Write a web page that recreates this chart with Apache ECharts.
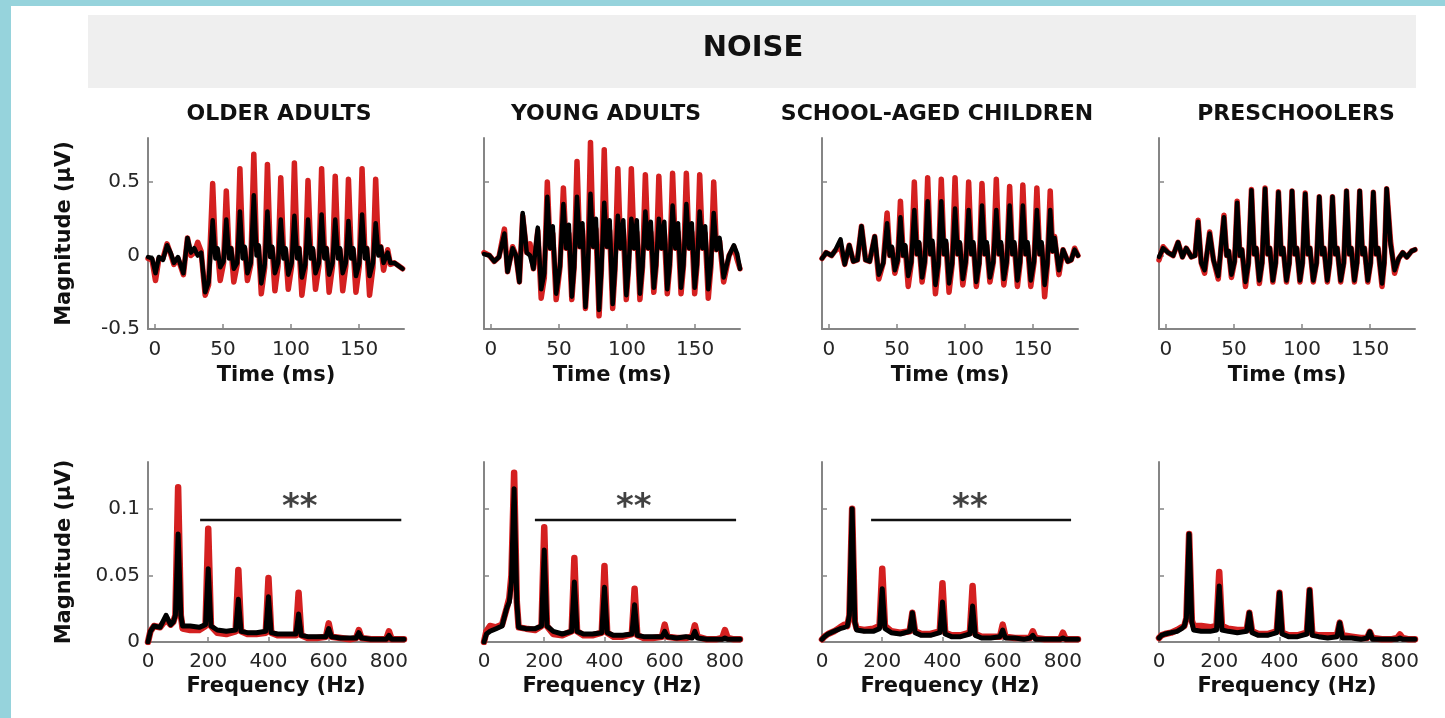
<!DOCTYPE html>
<html><head><meta charset="utf-8">
<script src="https://cdn.jsdelivr.net/npm/echarts@6/dist/echarts.min.js"></script>
<style>html,body{margin:0;padding:0;background:#fff;overflow:hidden}#c{width:1445px;height:718px}</style>
</head><body><div id="c"></div>
<script>
// ---------- text / ticks ----------
const MAIN_TITLE = 'NOISE';
const GROUPS = ['OLDER ADULTS', 'YOUNG ADULTS', 'SCHOOL-AGED CHILDREN', 'PRESCHOOLERS'];
const TIME_TICKS = [0, 50, 100, 150];
const TIME_MAG_TICKS = [-0.5, 0, 0.5];
const FREQ_TICKS = [0, 200, 400, 600, 800];
const FREQ_MAG_TICKS = [0, 0.05, 0.1];
const X_TIME_NAME = 'Time (ms)';
const X_FREQ_NAME = 'Frequency (Hz)';
const Y_NAME = 'Magnitude (\u00b5V)';

// ---------- time-domain waveforms (ms, µV) ----------
const T_OA = [-5,-2,0.5,3,6,9,12,14,17,21,24,26.5,29,31.5,34,37,39.5,
  42.5,44.5,46,48,50.5, 52.5,54.5,56,58,60.5, 62.5,64.5,66,68,70.5, 72.7,74.7,76.2,78.2,80.7,
  82.7,84.7,86.2,88.2,90.5, 92.5,94.5,96,98,100.5, 102.5,104.5,106,108,110.5, 112.5,114.5,116,118,120.5,
  122.5,124.5,126,128,130.5, 132.5,134.5,136,138,140.3, 142.2,144.2,145.7,147.7,150.2, 152.2,154.2,155.7,157.7,160.2,
  162.2,164.2,166,168, 171,173,176,179,182];
const RED_T_OA = [-0.02,-0.03,-0.17,-0.02,-0.02,0.08,0.0,-0.06,-0.02,-0.13,0.12,0.0,0.02,0.09,0.03,-0.27,-0.2,
  0.49,0.02,0.04,-0.17,-0.05, 0.44,0.02,0.05,-0.18,-0.06, 0.59,0.03,0.05,-0.17,-0.06, 0.69,0.04,0.06,-0.26,-0.08,
  0.62,0.03,0.05,-0.24,-0.07, 0.53,0.02,0.04,-0.23,-0.07, 0.63,0.03,0.05,-0.27,-0.08, 0.51,0.02,0.04,-0.23,-0.07,
  0.59,0.03,0.05,-0.25,-0.07, 0.54,0.02,0.04,-0.24,-0.07, 0.52,0.02,0.04,-0.25,-0.07, 0.59,0.03,0.05,-0.27,-0.08,
  0.52,0.02,0.06,-0.1, 0.04,-0.06,-0.05,-0.07,-0.09];
const BLK_T_OA = [-0.01,-0.02,-0.12,-0.01,-0.03,0.07,0.01,-0.05,-0.01,-0.12,0.12,0.02,0.05,0.0,0.02,-0.25,-0.18,
  0.24,-0.02,0.05,-0.08,-0.04, 0.245,-0.02,0.05,-0.09,-0.05, 0.3,-0.02,0.06,-0.12,-0.05, 0.41,0.0,0.07,-0.19,-0.06,
  0.3,-0.01,0.06,-0.12,-0.05, 0.245,-0.02,0.05,-0.13,-0.05, 0.27,-0.02,0.05,-0.15,-0.06, 0.245,-0.02,0.05,-0.12,-0.05,
  0.28,-0.02,0.05,-0.13,-0.05, 0.245,-0.02,0.05,-0.12,-0.05, 0.235,-0.02,0.05,-0.14,-0.05, 0.28,-0.02,0.05,-0.14,-0.05,
  0.22,0.0,0.06,-0.05, 0.02,-0.05,-0.05,-0.07,-0.09];

const T_YA = [-5,-1,2.5,6,10,12.3,16,18.5,21,23.4,26.4,28.8,31.3,34.5,37,39.3,
  41.5,43.5,45.5,48,50.8, 53.3,55.3,57.3,59.5,61.2, 63.3,65.3,67.3,69.5,71.2, 73.2,75.2,77.2,79.5,81.2,
  83.3,85.3,87.3,89.5,91.2, 93.3,95.3,97.3,99.5,101.2, 103.2,105.2,107.2,109.5,111.4, 113.5,115.5,117.5,119.7,121.4,
  123.4,125.4,127.4,129.6,131.4, 133.5,135.5,137.5,139.7,141.5, 143.6,145.6,147.6,149.7,151.4, 153.4,155.4,157.4,159.7,161.6,
  163.7,165.7,168,171, 175,178.5,181,183];
const RED_T_YA = [0.02,0.0,-0.04,-0.01,0.18,-0.11,0.06,0.0,-0.18,0.27,0.02,0.08,-0.09,0.17,-0.29,-0.15,
  0.50,0.05,0.15,-0.30,-0.08, 0.46,0.05,0.15,-0.30,-0.08, 0.64,0.06,0.17,-0.36,-0.1, 0.77,0.06,0.18,-0.41,-0.1,
  0.72,0.06,0.17,-0.36,-0.1, 0.59,0.05,0.17,-0.30,-0.08, 0.59,0.05,0.16,-0.30,-0.08, 0.55,0.05,0.16,-0.25,-0.07,
  0.54,0.05,0.16,-0.26,-0.07, 0.56,0.05,0.16,-0.26,-0.07, 0.56,0.05,0.16,-0.26,-0.07, 0.55,0.05,0.15,-0.29,-0.08,
  0.50,0.04,0.1,-0.18, 0.0,0.06,-0.03,-0.09];
const BLK_T_YA = [0.01,0.0,-0.04,-0.01,0.15,-0.11,0.05,0.0,-0.18,0.29,0.02,0.0,-0.09,0.19,-0.23,-0.12,
  0.40,0.05,0.2,-0.26,-0.07, 0.35,0.05,0.21,-0.28,-0.08, 0.40,0.06,0.22,-0.35,-0.09, 0.42,0.06,0.25,-0.37,-0.09,
  0.36,0.06,0.24,-0.33,-0.09, 0.27,0.05,0.24,-0.27,-0.08, 0.25,0.05,0.24,-0.26,-0.07, 0.30,0.05,0.23,-0.22,-0.06,
  0.25,0.05,0.23,-0.23,-0.06, 0.34,0.05,0.22,-0.22,-0.06, 0.35,0.05,0.22,-0.22,-0.06, 0.30,0.05,0.2,-0.23,-0.06,
  0.29,0.04,0.12,-0.15, 0.0,0.07,0.01,-0.09];

const T_SA = [-5,-2,2,4.4,8.6,11.7,15,18,21,24,27,30,33.7,36.7,40,
  42.8,44.8,46.3,48.5,50.6, 52.6,54.6,56.1,58.3,60.6, 62.8,64.8,66.3,68.5,70.5, 72.6,74.6,76.1,78.3,80.5,
  82.6,84.6,86.1,88.3,90.6, 92.7,94.7,96.2,98.4,100.6, 102.7,104.7,106.2,108.3,110.5, 112.5,114.5,116,118.3,120.8,
  123,125,126.5,128.5,130.7, 132.8,134.8,136.3,138.5,140.5, 142.5,144.5,146,148.3,150.7, 152.8,154.8,156.3,158.5,160.5,
  162.6,164.3,165.8,169, 172,175.5,178,180.5,183];
const RED_T_SA = [-0.02,0.02,0.0,0.03,0.06,-0.06,0.07,-0.04,-0.03,0.2,-0.03,-0.04,0.13,-0.16,-0.05,
  0.29,0.0,0.05,-0.12,-0.04, 0.37,0.0,0.06,-0.21,-0.05, 0.50,0.01,0.08,-0.18,-0.05, 0.53,0.01,0.08,-0.26,-0.06,
  0.52,0.01,0.08,-0.25,-0.06, 0.53,0.01,0.08,-0.2,-0.05, 0.50,0.01,0.07,-0.21,-0.05, 0.49,0.01,0.07,-0.18,-0.05,
  0.52,0.01,0.07,-0.2,-0.05, 0.47,0.01,0.07,-0.21,-0.05, 0.48,0.01,0.07,-0.21,-0.05, 0.46,0.01,0.07,-0.28,-0.06,
  0.44,0.03,0.13,-0.13, 0.04,-0.04,-0.03,0.05,0.0];
const BLK_T_SA = [-0.02,0.02,0.0,0.03,0.11,-0.06,0.07,-0.04,-0.03,0.2,-0.03,-0.04,0.13,-0.13,-0.05,
  0.22,0.0,0.06,-0.1,-0.03, 0.26,0.0,0.07,-0.14,-0.04, 0.31,0.01,0.09,-0.15,-0.04, 0.37,0.01,0.1,-0.2,-0.05,
  0.37,0.01,0.1,-0.19,-0.05, 0.32,0.01,0.09,-0.16,-0.04, 0.31,0.01,0.09,-0.18,-0.05, 0.34,0.01,0.09,-0.15,-0.04,
  0.31,0.01,0.09,-0.16,-0.04, 0.34,0.01,0.09,-0.17,-0.04, 0.34,0.01,0.09,-0.17,-0.04, 0.31,0.01,0.09,-0.2,-0.05,
  0.31,0.03,0.12,-0.1, 0.04,-0.04,-0.03,0.04,0.0];

const T_PS = [-5,-2,1.7,5.4,9,12.2,15,18.8,21.5,23.7,26,28.5,32.2,35,38.5,
  42.7,44.7,46.2,48.2,50.5, 52.4,54.4,55.9,58.5,60.7, 62.9,64.9,66.4,68.7,70.7, 72.9,74.9,76.4,78.6,80.7,
  82.7,84.7,86.2,88.6,90.7, 92.7,94.7,96.2,98.5,100.4, 102.4,104.4,105.9,108.3,110.7, 112.7,114.7,116.2,118.6,120.4,
  122.4,124.4,125.9,128.4,130.7, 132.7,134.7,136.2,138.5,140.4, 142.4,144.4,145.9,148.3,150.4, 152.4,154.4,155.9,158.8,160.4,
  162.2,165,168, 171,174,177,180.5,183];
const RED_T_PS = [-0.03,0.06,0.02,0.0,0.09,-0.01,0.05,-0.01,0.0,0.24,-0.05,-0.12,0.16,-0.03,-0.16,
  0.275,0.0,0.03,-0.15,-0.04, 0.37,0.0,0.04,-0.21,-0.05, 0.45,0.01,0.05,-0.19,-0.05, 0.46,0.01,0.05,-0.18,-0.05,
  0.435,0.01,0.05,-0.18,-0.05, 0.44,0.01,0.05,-0.18,-0.05, 0.425,0.01,0.05,-0.18,-0.05, 0.40,0.01,0.05,-0.18,-0.05,
  0.40,0.01,0.05,-0.18,-0.05, 0.44,0.01,0.05,-0.18,-0.05, 0.44,0.01,0.05,-0.18,-0.05, 0.43,0.01,0.05,-0.21,-0.05,
  0.455,0.1,-0.12, -0.02,0.02,-0.01,0.03,0.04];
const BLK_T_PS = [-0.01,0.05,0.02,0.0,0.09,-0.01,0.05,-0.01,0.0,0.23,-0.05,-0.1,0.15,-0.03,-0.14,
  0.26,0.0,0.03,-0.13,-0.04, 0.36,0.0,0.04,-0.18,-0.05, 0.445,0.01,0.05,-0.17,-0.05, 0.455,0.01,0.05,-0.17,-0.05,
  0.43,0.01,0.05,-0.17,-0.05, 0.44,0.01,0.05,-0.17,-0.05, 0.42,0.01,0.05,-0.17,-0.05, 0.40,0.01,0.05,-0.17,-0.05,
  0.40,0.01,0.05,-0.17,-0.05, 0.44,0.01,0.05,-0.17,-0.05, 0.44,0.01,0.05,-0.17,-0.05, 0.43,0.01,0.05,-0.19,-0.05,
  0.455,0.08,-0.1, -0.02,0.02,-0.01,0.03,0.04];

// ---------- spectra (Hz, µV) ----------
const FREQ = [0,8,20,40,60,75,84,91, 100,109,115,140,170, 191,200,209,230,260, 291,300,309,330,360,
  391,400,409,430,460, 491,500,509,530,560, 591,600,609,640,670, 691,700,709,740,770, 791,800,809,830,850];
const RED_F_OA = [0,0.008,0.012,0.011,0.017,0.013,0.015,0.02, 0.116,0.02,0.01,0.009,0.009, 0.012,0.085,0.012,0.007,0.006,
  0.008,0.054,0.008,0.006,0.006, 0.007,0.048,0.007,0.005,0.005, 0.005,0.037,0.005,0.003,0.003, 0.004,0.014,0.004,0.003,0.002,
  0.003,0.009,0.003,0.002,0.002, 0.002,0.008,0.002,0.002,0.002];
const BLK_F_OA = [0,0.008,0.012,0.011,0.02,0.013,0.015,0.02, 0.081,0.02,0.012,0.012,0.011, 0.013,0.055,0.012,0.009,0.008,
  0.009,0.032,0.008,0.007,0.007, 0.008,0.034,0.007,0.006,0.006, 0.006,0.021,0.005,0.004,0.004, 0.004,0.01,0.004,0.003,0.003,
  0.003,0.007,0.003,0.002,0.002, 0.002,0.005,0.002,0.002,0.002];
const RED_F_YA = [0,0.008,0.012,0.011,0.013,0.025,0.033,0.05, 0.127,0.03,0.011,0.01,0.009, 0.012,0.086,0.012,0.006,0.005,
  0.008,0.063,0.008,0.005,0.005, 0.007,0.057,0.007,0.004,0.004, 0.006,0.040,0.005,0.003,0.003, 0.004,0.013,0.004,0.003,0.003,
  0.004,0.0125,0.004,0.002,0.002, 0.003,0.009,0.003,0.002,0.002];
const BLK_F_YA = [0,0.006,0.008,0.01,0.012,0.025,0.03,0.045, 0.115,0.03,0.011,0.01,0.01, 0.012,0.069,0.012,0.008,0.006,
  0.008,0.045,0.008,0.006,0.006, 0.007,0.041,0.007,0.005,0.005, 0.006,0.028,0.005,0.004,0.004, 0.004,0.008,0.004,0.003,0.004,
  0.003,0.008,0.003,0.002,0.002, 0.002,0.003,0.002,0.002,0.002];
const RED_F_SA = [0.002,0.004,0.006,0.008,0.011,0.013,0.012,0.02, 0.1,0.015,0.01,0.009,0.01, 0.012,0.055,0.012,0.008,0.007,
  0.008,0.022,0.008,0.006,0.006, 0.008,0.044,0.007,0.005,0.005, 0.007,0.042,0.006,0.004,0.004, 0.004,0.013,0.004,0.003,0.003,
  0.003,0.008,0.003,0.002,0.002, 0.002,0.007,0.002,0.002,0.002];
const BLK_F_SA = [0.002,0.004,0.006,0.008,0.01,0.011,0.012,0.02, 0.1,0.015,0.009,0.008,0.008, 0.01,0.04,0.01,0.007,0.006,
  0.008,0.022,0.007,0.005,0.005, 0.007,0.03,0.006,0.004,0.004, 0.006,0.027,0.005,0.003,0.003, 0.004,0.009,0.003,0.003,0.002,
  0.003,0.005,0.002,0.002,0.002, 0.002,0.003,0.002,0.002,0.002];
const RED_F_PS = [0.003,0.005,0.006,0.007,0.009,0.011,0.012,0.018, 0.081,0.016,0.012,0.012,0.011, 0.012,0.0525,0.012,0.01,0.009,
  0.009,0.022,0.008,0.006,0.006, 0.008,0.037,0.007,0.005,0.005, 0.007,0.039,0.006,0.005,0.005, 0.005,0.0145,0.005,0.004,0.003,
  0.003,0.0076,0.003,0.002,0.002, 0.003,0.0056,0.003,0.002,0.002];
const BLK_F_PS = [0.003,0.005,0.006,0.007,0.008,0.01,0.012,0.018, 0.081,0.015,0.009,0.008,0.008, 0.009,0.042,0.009,0.008,0.007,
  0.008,0.022,0.007,0.005,0.005, 0.007,0.037,0.006,0.004,0.004, 0.006,0.039,0.005,0.004,0.003, 0.004,0.0145,0.003,0.003,0.002,
  0.003,0.0076,0.002,0.002,0.002, 0.002,0.003,0.002,0.002,0.002];

// significance bars (Hz range), level and "**" position
const SIG_RANGES = [[173, 841], [169, 837], [163, 827], null];
const SIG_LEVEL = 0.0915;
const STAR_X = [504, 497, 491, null];
const STAR_LEVEL = 0.1;
const STAR_TEXT = '**';

// ---------- build ----------
const TIME_SETS = [[T_OA, RED_T_OA, BLK_T_OA], [T_YA, RED_T_YA, BLK_T_YA], [T_SA, RED_T_SA, BLK_T_SA], [T_PS, RED_T_PS, BLK_T_PS]];
const FREQ_SETS = [[RED_F_OA, BLK_F_OA], [RED_F_YA, BLK_F_YA], [RED_F_SA, BLK_F_SA], [RED_F_PS, BLK_F_PS]];
const pair = (xs, ys) => xs.slice(0, Math.min(xs.length, ys.length)).map((x, i) => [x, ys[i]]);

const COL_LEFT = [148, 484, 822, 1159], GRID_W = 256;
const ROWS = [{ top: 138, height: 191 }, { top: 462, height: 180 }];
const RED = '#d42020', BLACK = '#000000', AXIS = '#858585', TICKC = '#262626';
const FONT = 'DejaVu Sans';

const grid = [], xAxis = [], yAxis = [], series = [];
const nameStyle = { fontFamily: FONT, fontWeight: 'bold', fontSize: 21, color: '#111' };
const lblStyle = { fontFamily: FONT, fontSize: 20, color: TICKC };

for (let r = 0; r < 2; r++) {
  for (let c = 0; c < 4; c++) {
    const gi = r * 4 + c;
    grid.push({ left: COL_LEFT[c], top: ROWS[r].top, width: GRID_W, height: ROWS[r].height });
    const xt = r === 0 ? TIME_TICKS : FREQ_TICKS;
    const yt = r === 0 ? TIME_MAG_TICKS : FREQ_MAG_TICKS;
    xAxis.push({
      type: 'value', gridIndex: gi,
      min: r === 0 ? -5 : 0, max: r === 0 ? 183 : 850,
      axisLine: { onZero: false, lineStyle: { color: AXIS, width: 2 } },
      axisTick: { inside: true, length: 5, customValues: xt, lineStyle: { color: AXIS, width: 1.5 } },
      axisLabel: Object.assign({ customValues: xt, margin: r === 0 ? 11 : 10 }, lblStyle),
      splitLine: { show: false },
      name: r === 0 ? X_TIME_NAME : X_FREQ_NAME, nameLocation: 'middle', nameGap: r === 0 ? 36 : 34,
      nameTextStyle: nameStyle
    });
    yAxis.push({
      type: 'value', gridIndex: gi,
      min: r === 0 ? -0.5 : 0, max: r === 0 ? 0.8 : 0.135,
      axisLine: { show: true, onZero: false, lineStyle: { color: AXIS, width: 2 } },
      axisTick: { show: true, inside: true, length: 5, customValues: yt, lineStyle: { color: AXIS, width: 1.5 } },
      axisLabel: Object.assign({ show: c === 0, customValues: yt, margin: 8 }, lblStyle),
      splitLine: { show: false },
      name: c === 0 ? Y_NAME : '', nameLocation: 'middle', nameGap: 73,
      nameTextStyle: nameStyle
    });
    let redData, blkData;
    if (r === 0) {
      const s = TIME_SETS[c];
      redData = pair(s[0], s[1]); blkData = pair(s[0], s[2]);
    } else {
      const s = FREQ_SETS[c];
      redData = pair(FREQ, s[0]); blkData = pair(FREQ, s[1]);
    }
    const lw = r === 0 ? [5.5, 4.5] : [6.5, 5];
    series.push({ type: 'line', xAxisIndex: gi, yAxisIndex: gi, data: redData, showSymbol: false, symbol: 'none',
      lineStyle: { color: RED, width: lw[0], join: 'round', cap: 'round' }, z: 2, silent: true });
    series.push({ type: 'line', xAxisIndex: gi, yAxisIndex: gi, data: blkData, showSymbol: false, symbol: 'none',
      lineStyle: { color: BLACK, width: lw[1], join: 'round', cap: 'round' }, z: 3, silent: true });
    if (r === 1 && SIG_RANGES[c]) {
      series.push({ type: 'line', xAxisIndex: gi, yAxisIndex: gi,
        data: [[SIG_RANGES[c][0], SIG_LEVEL], [SIG_RANGES[c][1], SIG_LEVEL]], showSymbol: false, symbol: 'none',
        lineStyle: { color: '#111', width: 2.5 }, z: 4, silent: true });
      series.push({ type: 'scatter', xAxisIndex: gi, yAxisIndex: gi, data: [[STAR_X[c], STAR_LEVEL]],
        symbolSize: 1, itemStyle: { color: 'rgba(0,0,0,0)' }, z: 5, silent: true,
        label: { show: true, position: 'inside', formatter: STAR_TEXT, fontFamily: FONT, fontWeight: 'bold', fontSize: 34, color: '#111' } });
    }
  }
}

const TITLE_X = [279, 606, 937, 1296];
const graphic = [
  { type: 'rect', shape: { x: 0, y: 0, width: 1445, height: 6 }, style: { fill: '#96d3dc' }, silent: true },
  { type: 'rect', shape: { x: 0, y: 0, width: 11, height: 718 }, style: { fill: '#96d3dc' }, silent: true },
  { type: 'rect', shape: { x: 88, y: 15, width: 1328, height: 73 }, style: { fill: '#efefef' }, silent: true },
  { type: 'text', x: 753, y: 48, style: { text: MAIN_TITLE, fontFamily: FONT, fontWeight: 'bold', fontSize: 29, fill: '#111', textAlign: 'center', textVerticalAlign: 'middle' } }
];
GROUPS.forEach((g, i) => graphic.push({ type: 'text', x: TITLE_X[i], y: 114,
  style: { text: g, fontFamily: FONT, fontWeight: 'bold', fontSize: 22, fill: '#111', textAlign: 'center', textVerticalAlign: 'middle' } }));

const chart = echarts.init(document.getElementById('c'), null, { renderer: 'canvas' });
chart.setOption({
  backgroundColor: '#ffffff', animation: false,
  textStyle: { fontFamily: FONT },
  grid, xAxis, yAxis, series, graphic
});
</script></body></html>
